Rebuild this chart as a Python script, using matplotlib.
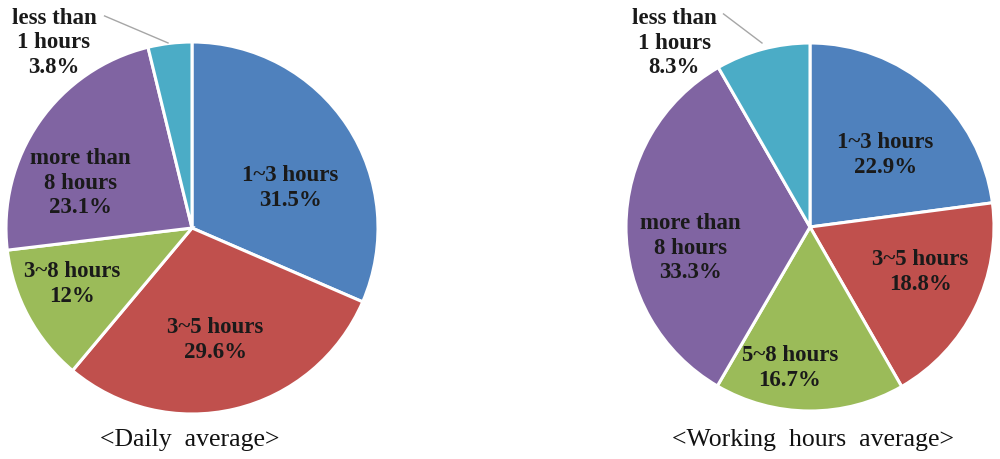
import matplotlib
matplotlib.use("Agg")
import matplotlib.pyplot as plt

# ---- data ----
daily_labels = ["1~3 hours", "3~5 hours", "3~8 hours", "more than\n8 hours", "less than\n1 hours"]
daily_values = [31.5, 29.6, 12, 23.1, 3.8]
daily_pct_text = ["31.5%", "29.6%", "12%", "23.1%", "3.8%"]

work_labels = ["1~3 hours", "3~5 hours", "5~8 hours", "more than\n8 hours", "less than\n1 hours"]
work_values = [22.9, 18.8, 16.7, 33.3, 8.3]
work_pct_text = ["22.9%", "18.8%", "16.7%", "33.3%", "8.3%"]

captions = ["<Daily  average>", "<Working  hours  average>"]

# ---- style ----
colors = ["#4F81BD", "#C0504D", "#9BBB59", "#8064A2", "#4BACC6"]
FONT = "Liberation Serif"
LBL_SIZE = 16.5

fig = plt.figure(figsize=(10, 4.6), dpi=100)

def make_axes(cx, cy, r):
    W, H = 1000, 460
    return fig.add_axes([(cx - r) / W, (H - cy - r) / H, 2 * r / W, 2 * r / H])

def draw_pie(ax, values, labels, pcts, label_pos, leader):
    ax.pie(values, colors=colors, startangle=90, counterclock=False,
           radius=1.0, wedgeprops=dict(edgecolor="white", linewidth=2.2))
    ax.set_xlim(-1, 1)
    ax.set_ylim(-1, 1)
    ax.set_aspect("auto")
    ax.axis("off")
    for lab, pct, (x, y) in zip(labels, pcts, label_pos):
        ax.text(x, y, lab + "\n" + pct, ha="center", va="center",
                fontsize=LBL_SIZE, fontweight="bold", family=FONT,
                color="#1a1a1a", linespacing=1.2, clip_on=False)
    (x0, y0), (x1, y1) = leader
    ax.plot([x0, x1], [y0, y1], color="#a6a6a6", lw=1.0, clip_on=False)

ax1 = make_axes(192, 229, 186)
draw_pie(ax1, daily_values, daily_labels, daily_pct_text,
         [(0.527, 0.220), (0.124, -0.597), (-0.645, -0.296), (-0.602, 0.247), (-0.742, 1.0)],
         [(-0.470, 1.14), (-0.129, 0.995)])

ax2 = make_axes(810, 228, 184)
draw_pie(ax2, work_values, work_labels, work_pct_text,
         [(0.408, 0.397), (0.598, -0.239), (-0.109, -0.761), (-0.652, -0.109), (-0.739, 1.005)],
         [(-0.470, 1.158), (-0.261, 1.0)])

fig.text(0.190, 1 - 440 / 460, captions[0], ha="center", va="center",
         fontsize=18.5, family=FONT, color="#111111")
fig.text(0.813, 1 - 440 / 460, captions[1], ha="center", va="center",
         fontsize=18.5, family=FONT, color="#111111")

fig.savefig("out.png", dpi=100, facecolor="white")
